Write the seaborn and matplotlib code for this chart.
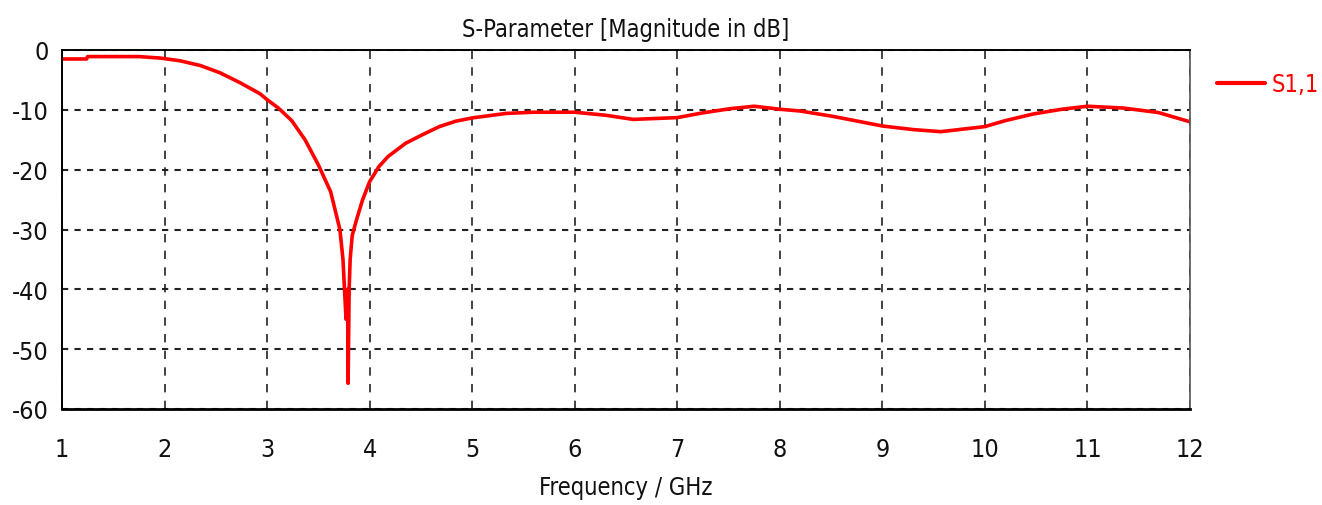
import matplotlib
matplotlib.use("Agg")
import matplotlib.pyplot as plt
import seaborn as sns
import pandas as pd

freq_ghz = [1.0, 1.24, 1.25, 1.5, 1.75, 1.96, 2.15, 2.35, 2.54, 2.74, 2.93, 3.0, 3.11, 3.24,
            3.37, 3.50, 3.62, 3.71, 3.74, 3.77, 3.785, 3.79, 3.80, 3.81, 3.83, 3.87, 3.93,
            4.0, 4.09, 4.18, 4.35, 4.51, 4.68, 4.84, 5.0, 5.33, 5.6, 6.0, 6.3, 6.57, 7.0,
            7.25, 7.52, 7.75, 8.0, 8.2, 8.52, 9.0, 9.3, 9.57, 10.0, 10.2, 10.47, 10.75,
            11.0, 11.35, 11.69, 12.0]
s11_db = [-1.5, -1.5, -1.1, -1.1, -1.1, -1.35, -1.8, -2.6, -3.8, -5.5, -7.3, -8.3, -9.7,
          -11.8, -15.0, -19.2, -23.7, -30.0, -35.0, -45.0, -40.0, -55.7, -40.0, -35.0,
          -31.0, -28.5, -25.1, -22.0, -19.5, -17.8, -15.6, -14.2, -12.8, -11.9, -11.35,
          -10.6, -10.4, -10.4, -10.9, -11.6, -11.3, -10.5, -9.8, -9.4, -9.9, -10.2, -11.1,
          -12.7, -13.3, -13.65, -12.8, -11.8, -10.7, -9.9, -9.4, -9.7, -10.45, -12.0]

title_text = "S-Parameter [Magnitude in dB]"
xlabel_text = "Frequency / GHz"
series_name = "S1,1"
x_ticks = list(range(1, 13))
y_ticks = [0, -10, -20, -30, -40, -50, -60]

df = pd.DataFrame({"Frequency": freq_ghz, "S11": s11_db, "series": series_name})

sns.set_style("white")
plt.rcParams["font.family"] = ["DejaVu Sans"]
plt.rcParams["font.stretch"] = "condensed"

fig = plt.figure(figsize=(13.22, 5.06), dpi=100)
ax = fig.add_axes([62 / 1322, 1 - 410 / 506, (1190 - 62) / 1322, (410 - 51) / 506])

sns.lineplot(data=df, x="Frequency", y="S11", hue="series", palette=["#ff0000"],
             linewidth=2.6, ax=ax, sort=False, estimator=None, legend=True)

ax.set_xlim(1, 12)
ax.set_ylim(-60, 0)
ax.set_xticks(x_ticks)
ax.set_yticks(y_ticks)
ax.set_xticklabels([str(v) for v in x_ticks], fontsize=18)
ax.set_yticklabels([str(v) for v in y_ticks], fontsize=18)
ax.tick_params(axis="both", direction="inout", length=9, width=1.2, color="black",
               labelcolor="#111111")
ax.tick_params(axis="x", pad=16)
ax.tick_params(axis="y", pad=5)

ax.xaxis.grid(True, color="#222222", linestyle=(0, (5, 5)), linewidth=1.2)
ax.yaxis.grid(True, color="#222222", linestyle=(0, (3, 3)), linewidth=1.5)
ax.set_axisbelow(True)

for side in ["left", "bottom", "top"]:
    ax.spines[side].set_color("black")
    ax.spines[side].set_linewidth(1.4)
ax.spines["bottom"].set_linewidth(2.0)
ax.spines["right"].set_color("#555555")
ax.spines["right"].set_linewidth(1.2)

ax.set_title(title_text, fontsize=17, pad=10, color="#111111",
             fontfamily="DejaVu Sans", fontstretch="condensed")
ax.set_xlabel(xlabel_text, fontsize=17, labelpad=10, color="#111111",
              fontfamily="DejaVu Sans", fontstretch="condensed")
ax.set_ylabel("")

leg = ax.legend(loc="upper left", bbox_to_anchor=(1208 / 1322, 1 - 64 / 506),
                bbox_transform=fig.transFigure, frameon=False, fontsize=17,
                handlelength=2.0, handletextpad=0.3, borderaxespad=0)
for t in leg.get_texts():
    t.set_color("#ff0000")
for l in leg.get_lines():
    l.set_linewidth(3)

fig.savefig("out.png", dpi=100)
